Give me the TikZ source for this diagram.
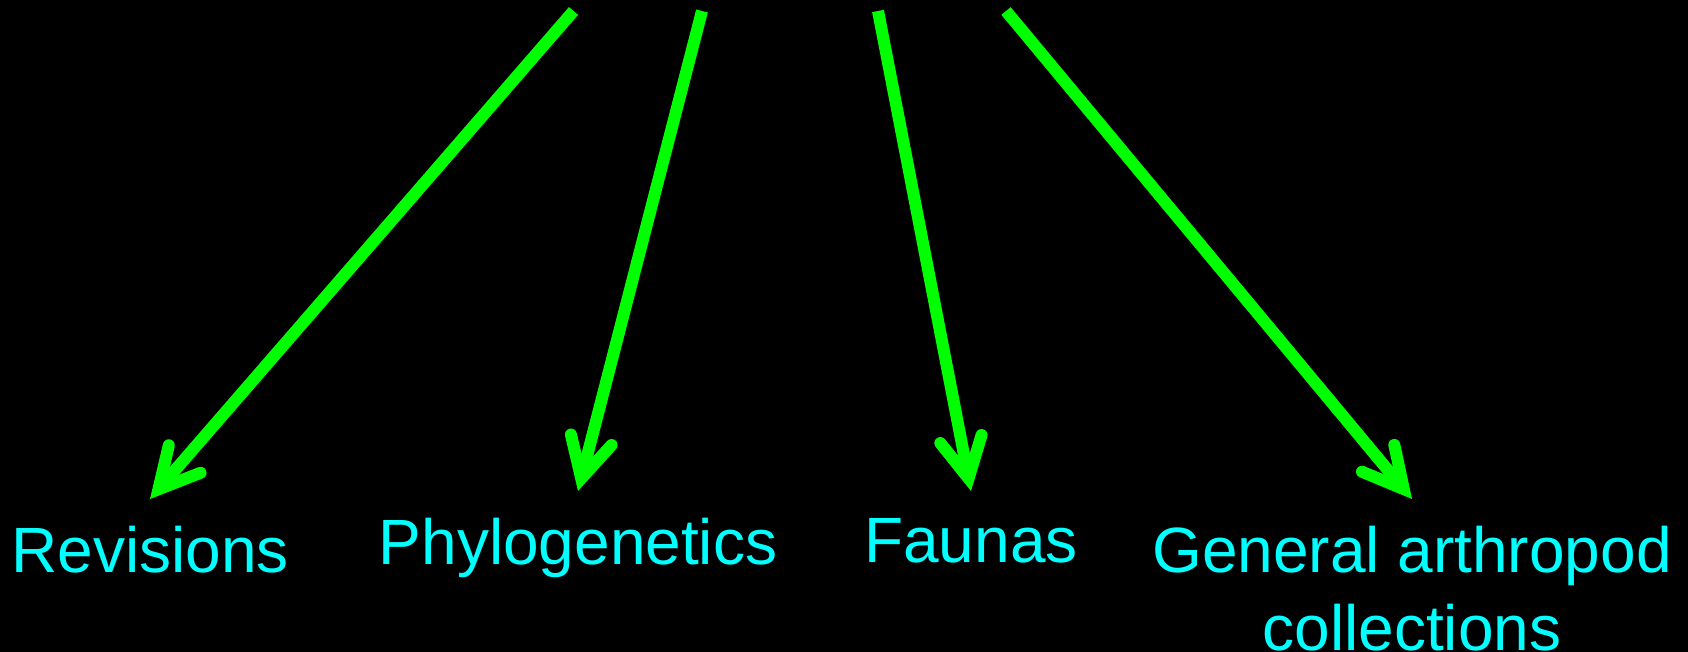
\documentclass[tikz,border=0pt]{standalone}
\usepackage{fontspec}
\setmainfont{Liberation Sans}
\usetikzlibrary{arrows.meta}
\definecolor{arrgreen}{RGB}{0,255,0}
\definecolor{lblcyan}{RGB}{0,255,255}
\begin{document}
\begin{tikzpicture}[x=1pt,y=-1pt,
  lbl/.style={text=lblcyan,inner sep=0pt,outer sep=27pt,anchor=north,font=\fontsize{64}{78}\selectfont,align=center},
  arr/.style={draw=arrgreen,line width=12pt,line cap=butt,
    -{Straight Barb[length=40pt,width=42pt,line cap=round,line join=miter]}}]
\fill[black] (0,0) rectangle (1688,652);
\useasboundingbox (0,0) rectangle (1688,652);
\coordinate (s1) at (573.5,11);
\coordinate (s2) at (702,11);
\coordinate (s3) at (878,11);
\coordinate (s4) at (1006,11);
\node[lbl] (rev) at (150,499) {Revisions};
\node[lbl] (phy) at (578,491) {Phylogenetics};
\node[lbl] (fau) at (971,491) {Faunas};
\node[lbl] (gen) at (1412,499) {General arthropod\\collections};
\draw[arr] (s1) -- (rev.north);
\draw[arr] (s2) -- (phy.north);
\draw[arr] (s3) -- (fau.north);
\draw[arr] (s4) -- (gen.north);
\end{tikzpicture}
\end{document}
